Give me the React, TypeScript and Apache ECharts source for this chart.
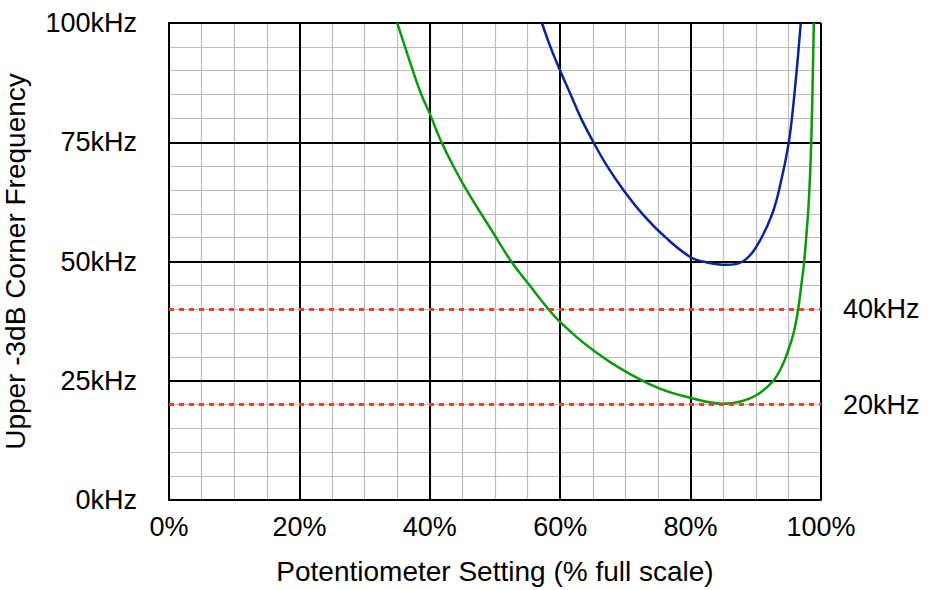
import React, { useEffect, useRef } from "react";
import * as echarts from "echarts";

// potentiometer setting (%) vs upper -3dB corner (kHz)
const greenCurve: [number, number][] = [
  [35, 100], [36.2, 95], [37.4, 90], [38.7, 85], [40, 81], [41.8, 75],
  [45, 66.5], [50, 55.4], [52.5, 50], [55.3, 45], [58.2, 40], [60, 37.3],
  [64, 32.5], [69.2, 27.6], [75, 23.5], [80, 21.4], [85, 20.2], [87.5, 20.6],
  [90, 21.9], [92.5, 24.7], [94, 28], [95, 31.5], [95.8, 35], [96.5, 40],
  [97, 45.3], [97.4, 49.7], [98.1, 62], [98.5, 75], [98.9, 100],
];

const blueCurve: [number, number][] = [
  [57.2, 100], [58.5, 95], [60, 90], [61.6, 85], [63.2, 80], [65.1, 75],
  [67.2, 70], [69.7, 65], [72.6, 60], [76.2, 55], [80, 50.9], [82.5, 49.8],
  [85.5, 49.3], [88, 50], [90, 52.9], [92.5, 59.9], [94, 67.6], [95, 74.5],
  [95.6, 80.8], [96.3, 90.5], [96.9, 100],
];

const limitLines = [40, 20]; // kHz

const FONT = "'Liberation Sans', Helvetica, Arial, sans-serif";
const BLACK = "#000";

export default function App() {
  const ref = useRef<HTMLDivElement | null>(null);

  useEffect(() => {
    if (!ref.current) return;
    const chart = echarts.init(ref.current, undefined, { renderer: "svg" });

    // fine grey grid lives on its own axes so the black major lines sit on top
    const minorAxis = {
      type: "value",
      min: 0,
      max: 100,
      interval: 5,
      z: 0,
      axisLine: { show: false },
      axisTick: { show: false },
      axisLabel: { show: false },
      splitLine: { show: true, lineStyle: { color: "#bcbcbc", width: 1.2 } },
    };

    const option: any = {
      animation: false,
      backgroundColor: "#fff",
      textStyle: { fontFamily: FONT },
      grid: { left: 169, right: 119, top: 23, bottom: 90, outerBoundsMode: "none", containLabel: false },
      xAxis: [
        { ...minorAxis, position: "bottom" },
        {
          type: "value",
          position: "bottom",
          min: 0,
          max: 100,
          interval: 20,
          z: 2,
          name: "Potentiometer Setting (% full scale)",
          nameLocation: "middle",
          nameGap: 57,
          nameTextStyle: { fontSize: 28, color: BLACK, fontFamily: FONT },
          axisLine: { show: true, lineStyle: { color: BLACK, width: 2 } },
          axisTick: { show: false },
          axisLabel: { formatter: "{value}%", fontSize: 27, color: BLACK, margin: 13, fontFamily: FONT },
          splitLine: { show: true, lineStyle: { color: BLACK, width: 2 } },
        },
      ],
      yAxis: [
        { ...minorAxis, position: "left" },
        {
          type: "value",
          position: "left",
          min: 0,
          max: 100,
          interval: 25,
          z: 2,
          name: "Upper -3dB Corner Frequency",
          nameLocation: "middle",
          nameGap: 140,
          nameTextStyle: { fontSize: 28, color: BLACK, fontFamily: FONT },
          axisLine: { show: true, lineStyle: { color: BLACK, width: 2 } },
          axisTick: { show: false },
          axisLabel: { formatter: "{value}kHz", fontSize: 27, color: BLACK, margin: 32, fontFamily: FONT },
          splitLine: { show: true, lineStyle: { color: BLACK, width: 2 } },
        },
      ],
      series: [
        {
          type: "line",
          name: "limits",
          xAxisIndex: 1,
          yAxisIndex: 1,
          data: [],
          z: 3,
          markLine: {
            silent: true,
            symbol: "none",
            lineStyle: { color: "#ff3b1e", width: 3, type: [5, 5] },
            label: {
              show: true,
              position: "end",
              distance: 22,
              fontSize: 27,
              color: BLACK,
              fontFamily: FONT,
              formatter: (p: any) => `${p.value}kHz`,
            },
            data: limitLines.map((v) => ({ yAxis: v })),
          },
        },
        {
          type: "line",
          name: "green",
          xAxisIndex: 1,
          yAxisIndex: 1,
          data: greenCurve,
          smooth: 0.4,
          showSymbol: false,
          z: 4,
          lineStyle: { color: "#0a9a0a", width: 2.5 },
        },
        {
          type: "line",
          name: "blue",
          xAxisIndex: 1,
          yAxisIndex: 1,
          data: blueCurve,
          smooth: 0.4,
          showSymbol: false,
          z: 4,
          lineStyle: { color: "#0b2596", width: 2.5 },
        },
      ],
    };

    chart.setOption(option);
    return () => chart.dispose();
  }, []);

  return (
    <div
      ref={ref}
      style={{ position: "fixed", left: 0, top: 0, width: 940, height: 590, background: "#fff" }}
    />
  );
}
